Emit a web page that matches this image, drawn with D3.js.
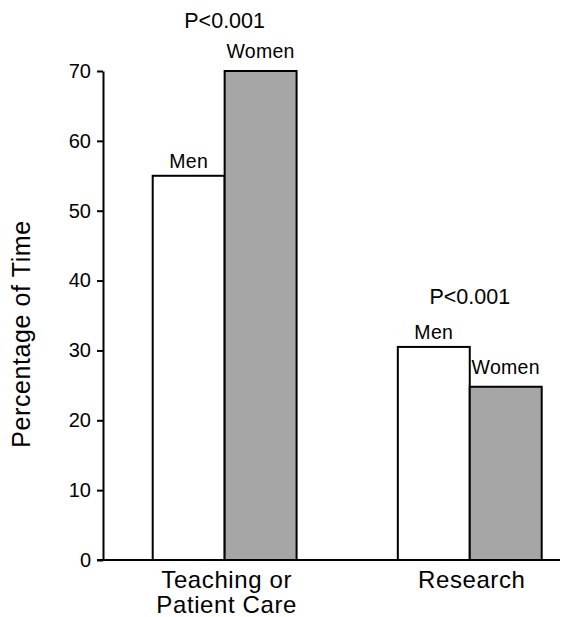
<!DOCTYPE html>
<html>
<head>
<meta charset="utf-8">
<script src="https://cdn.jsdelivr.net/npm/d3@7"></script>
<style>
  html, body { margin: 0; padding: 0; background: #fff; }
  svg text { font-family: "Liberation Sans", Arial, Helvetica, sans-serif; fill: #000; }
</style>
</head>
<body>
<svg id="chart" width="585" height="617"></svg>
<script>
// ---- data ----
const categories = ["Teaching or\nPatient Care", "Research"];
const series = ["Men", "Women"];
const menValues = [55, 30.5];
const womenValues = [70, 24.8];
const pLabels = ["P<0.001", "P<0.001"];
const yTicks = [0, 10, 20, 30, 40, 50, 60, 70];
const yTitle = "Percentage of Time";

const seriesValues = { Men: menValues, Women: womenValues };
const seriesFill = { Men: "#ffffff", Women: "#a6a6a6" };
const labelGap = { Men: 8, Women: 13 };

const svg = d3.select("#chart");
const axisLeftX = 103, axisRightX = 560;
const y = d3.scaleLinear().domain([0, 70]).range([560, 71]);

const x0 = d3.scaleBand().domain(categories).range([152.7, 541.7]).paddingInner(0.413);
const x1 = d3.scaleBand().domain(series).range([0, x0.bandwidth()]);

// bars
const data = [];
categories.forEach((c, i) => series.forEach(s => data.push({ c, s, v: seriesValues[s][i], i })));

const g = svg.append("g");
g.selectAll("rect.bar").data(data).enter().append("rect")
  .attr("class", "bar")
  .attr("x", d => x0(d.c) + x1(d.s))
  .attr("y", d => y(d.v))
  .attr("width", x1.bandwidth())
  .attr("height", d => y(0) - y(d.v))
  .attr("fill", d => seriesFill[d.s])
  .attr("stroke", "#000")
  .attr("stroke-width", 2);

// series labels above bars
g.selectAll("text.slab").data(data).enter().append("text")
  .attr("class", "slab")
  .attr("x", d => x0(d.c) + x1(d.s) + x1.bandwidth() / 2)
  .attr("y", d => y(d.v) - labelGap[d.s])
  .attr("text-anchor", "middle")
  .attr("font-size", 19.5)
  .attr("letter-spacing", 0.3)
  .text(d => d.s);

// P labels
g.selectAll("text.plab").data(categories).enter().append("text")
  .attr("class", "plab")
  .attr("x", c => x0(c) + x0.bandwidth() / 2)
  .attr("y", (c, i) => y(Math.max(menValues[i], womenValues[i])) - 43)
  .attr("text-anchor", "middle")
  .attr("font-size", 21.5)
  .text((c, i) => pLabels[i]);

// y axis
const yAxis = d3.axisLeft(y).tickValues(yTicks).tickSize(6).tickPadding(6).tickSizeOuter(0);
const ya = svg.append("g").attr("transform", `translate(${axisLeftX},0)`).call(yAxis);
ya.select(".domain").attr("stroke", "#000").attr("stroke-width", 2);
ya.selectAll(".tick line").attr("stroke", "#000").attr("stroke-width", 2);
ya.selectAll(".tick text").attr("font-size", 20).attr("font-family", "Liberation Sans, Arial, sans-serif").attr("fill", "#000");

// x axis line
svg.append("line")
  .attr("x1", axisLeftX - 6).attr("x2", axisRightX)
  .attr("y1", y(0)).attr("y2", y(0))
  .attr("stroke", "#000").attr("stroke-width", 2);

// category labels
const cl = svg.selectAll("text.cat").data(categories).enter().append("text")
  .attr("class", "cat")
  .attr("text-anchor", "middle")
  .attr("font-size", 24)
  .attr("letter-spacing", 0.6)
  .attr("x", c => x0(c) + x0.bandwidth() / 2 + 2)
  .attr("y", 588);
cl.each(function(c) {
  const lines = c.split("\n");
  const t = d3.select(this);
  lines.forEach((ln, k) => {
    t.append("tspan").attr("x", x0(c) + x0.bandwidth() / 2 + 2).attr("dy", k === 0 ? 0 : 25).text(ln);
  });
});

// y title
svg.append("text")
  .attr("transform", "translate(30,334) rotate(-90)")
  .attr("text-anchor", "middle")
  .attr("font-size", 25)
  .attr("letter-spacing", 0.6)
  .text(yTitle);
</script>
</body>
</html>
